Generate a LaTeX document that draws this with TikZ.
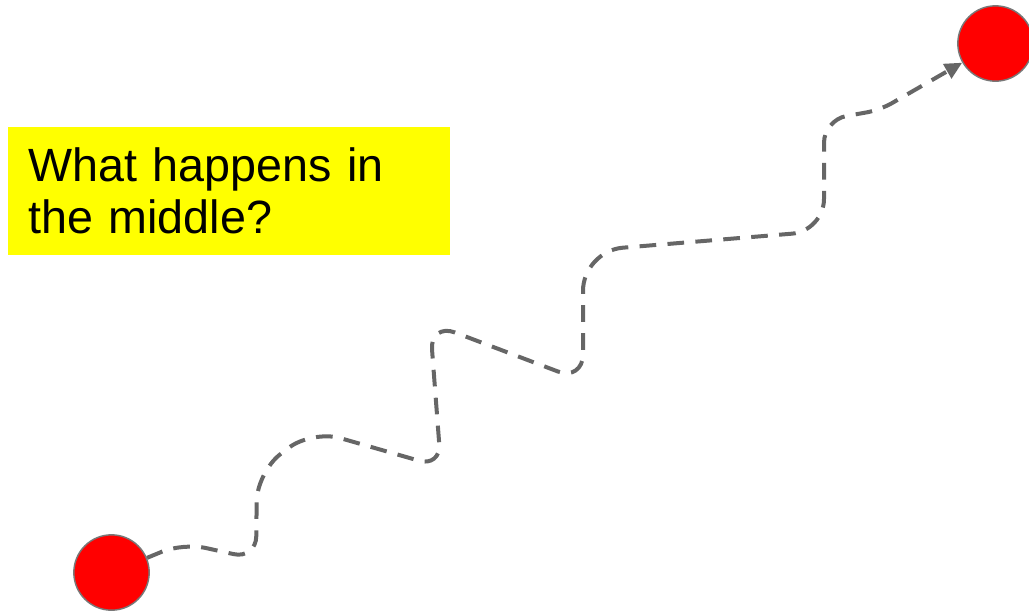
\documentclass[tikz,border=0pt]{standalone}
\usepackage{fontspec}
\setmainfont{Liberation Sans}
\usepackage{tikz}
\usetikzlibrary{positioning,arrows.meta}
\definecolor{dotred}{RGB}{255,0,0}
\definecolor{rimgray}{RGB}{120,120,120}
\definecolor{flowgray}{RGB}{102,102,102}
\definecolor{noteyellow}{RGB}{255,255,0}

\begin{document}
\begin{tikzpicture}[
x=0.75pt, y=-0.75pt,
dot/.style={circle, fill=dotred, draw=rimgray, line width=1.1pt, minimum size=56.5pt, inner sep=0pt},
note/.style={fill=noteyellow, align=left, text width=301.5pt, inner xsep=15pt, inner ysep=0pt, minimum height=96pt, font=\fontsize{35}{39}\selectfont},
flow/.style={-{Triangle[length=13pt, width=12pt]}, draw=flowgray, line width=3pt, dash pattern=on 12.5pt off 8.5pt, rounded corners=17pt}
]
\useasboundingbox (0,0) rectangle (1029,612);

\node[note, anchor=north west] (q) at (8,127) {What happens in\\the middle?};
\node[dot] (start) at (111.5,572.5) {};
\node[dot] (goal) at (995.5,43.5) {};

% bends of the wandering path
\coordinate (b1) at (183,543);
\coordinate (b2) at (256,559);
\coordinate (b3) at (257,472);
\coordinate (b4) at (312,430);
\coordinate (b5) at (441,467);
\coordinate (b6) at (430,323);
\coordinate (b7) at (583,381);
\coordinate (b8) at (583,251);
\coordinate (b9) at (824,231);
\coordinate (b10) at (824,120);
\coordinate (b11) at (880,110);

\draw[flow] (start) -- (b1) -- (b2) [rounded corners=22pt] -- (b3) -- (b4) [rounded corners=17pt] -- (b5)
  [rounded corners=20pt] -- (b6) -- (b7) [rounded corners=30pt] -- (b8) [rounded corners=24pt] -- (b9)
  [rounded corners=17pt] -- (b10) [rounded corners=10pt] -- (b11) -- (goal);
\end{tikzpicture}
\end{document}
